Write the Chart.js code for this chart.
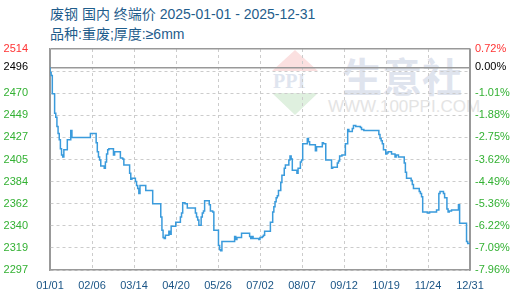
<!DOCTYPE html>
<html>
<head>
<meta charset="utf-8">
<script src="https://cdn.jsdelivr.net/npm/chart.js@4.4.0/dist/chart.umd.min.js"></script>
<style>
  body { margin: 0; background: #fff; }
  #wrap { position: relative; width: 520px; height: 300px; }
  #wrap canvas { position: absolute; left: 0; top: 0; }
  .ttl { position: absolute; left: 50px; font-family: "Liberation Sans", "Noto Sans CJK SC", sans-serif; font-size: 14px; line-height: 16px; color: #1f5d8c; white-space: nowrap; }
  .wm { position: absolute; white-space: nowrap; font-family: "Noto Sans CJK SC", sans-serif; }
  .tri { position: absolute; }
</style>
</head>
<body>
<div id="wrap">
  <div class="ttl" style="top:6px">废钢 国内 终端价 2025-01-01 - 2025-12-31</div>
  <div class="ttl" style="top:26px">品种:重废;厚度:≥6mm</div>
  <div class="tri" style="left:272px;top:50px;width:46px;height:21px;background:#fbe0e0;clip-path:polygon(50% 0,100% 100%,0 100%)"></div>
  <div class="tri" style="left:272px;top:93px;width:46px;height:22px;background:#dff0df;clip-path:polygon(0 0,100% 0,50% 100%)"></div>
  <div class="wm" style="left:273px;top:70px;font-size:20px;font-weight:bold;color:#dfe5ef;font-family:'Liberation Serif',serif">PPI</div>
  <div class="wm" style="left:342px;top:46px;font-size:40px;font-weight:bold;color:#dfe4ee">生意社</div>
  <div class="wm" style="left:328px;top:97px;font-size:17px;color:#e4e4e4;font-family:'Liberation Sans',sans-serif">WWW.100PPI.COM</div>
  <canvas id="c" width="520" height="300"></canvas>
</div>
<script>
// day of year (0 = 01/01) where the price changes, and the price from that day
const dayIndex = [0, 1, 2, 4, 5, 6, 7, 8, 9, 10, 11, 12, 15, 18, 19, 35, 40, 41, 42, 43, 44, 47, 48, 49, 50, 51,
  55, 56, 61, 63, 64, 69, 70, 71, 74, 75, 76, 77, 78, 83, 89, 96, 97, 98, 99, 100, 103, 104, 105, 109,
  113, 114, 115, 117, 119, 126, 127, 128, 129, 131, 132, 133, 134, 138, 139, 141, 142, 146, 147, 148, 149,
  160, 161, 162, 166, 173, 174, 175, 176, 181, 182, 184, 185, 186, 191, 193, 194, 195, 196, 197, 198,
  200, 201, 203, 204, 207, 208, 209, 210, 214, 215, 217, 218, 219, 223, 224, 225, 230, 231, 236, 237, 239,
  244, 245, 246, 249, 250, 251, 253, 256, 258, 259, 262, 263, 265, 269, 270, 272,
  285, 286, 287, 288, 289, 291, 292, 293, 296, 299, 300, 302, 307, 308, 309, 313, 314, 315, 320, 321, 322, 323,
  327, 329, 335, 337, 338, 341, 342, 344, 345, 346, 348, 354, 355, 361, 362, 363, 364];
const prices = [2496, 2491, 2488, 2470, 2451, 2447, 2438, 2431, 2425, 2416, 2410, 2408, 2415, 2425, 2434, 2427, 2431, 2422, 2413, 2408, 2405, 2399, 2397, 2403, 2411, 2415,
  2416, 2410, 2413, 2407, 2406, 2400, 2392, 2386, 2387, 2384, 2380, 2377, 2372, 2380, 2375, 2362, 2349, 2336, 2329, 2328, 2331, 2335, 2332, 2340,
  2344, 2349, 2353, 2363, 2362, 2358, 2353, 2349, 2346, 2341, 2349, 2353, 2355, 2365, 2361, 2355, 2354, 2336, 2321, 2317, 2316,
  2325, 2330, 2327, 2329, 2333, 2330, 2328, 2330, 2328, 2327, 2329, 2330, 2331, 2335, 2344, 2354, 2359, 2364, 2368, 2370,
  2375, 2383, 2390, 2397, 2400, 2405, 2409, 2406, 2395, 2392, 2397, 2403, 2405, 2421, 2426, 2423, 2420, 2414, 2418, 2422, 2421,
  2405, 2397, 2398, 2398, 2402, 2404, 2409, 2410, 2421, 2435, 2433, 2436, 2439, 2438, 2437, 2435,
  2434, 2430, 2426, 2424, 2421, 2415, 2411, 2412, 2413, 2411, 2408, 2410, 2408, 2402, 2393, 2387, 2385, 2381, 2377, 2374, 2372, 2369,
  2354, 2353, 2354, 2356, 2372, 2374, 2372, 2368, 2357, 2354, 2355, 2356, 2361, 2343, 2325, 2323, 2323];

const xTickDays = [0, 36.4, 72.8, 109.2, 145.6, 182, 218.4, 254.8, 291.2, 327.6, 364];
const xTickLabels = ['01/01', '02/06', '03/14', '04/20', '05/26', '07/02', '08/07', '09/12', '10/19', '11/24', '12/31'];

const yTickValues = [2297, 2318.7, 2340.4, 2362.1, 2383.8, 2405.5, 2427.2, 2448.9, 2470.6, 2492.3, 2496, 2514];
const yTickLabels = ['2297', '2319', '2340', '2362', '2384', '2405', '2427', '2449', '2470', '', '2496', '2514'];
const pctLabels = ['-7.96%', '-7.09%', '-6.22%', '-5.36%', '-4.49%', '-3.62%', '-2.75%', '-1.88%', '-1.01%', '', '0.00%', '0.72%'];
const basePrice = 2496;

const tickFont = { family: 'Liberation Sans', size: 11 };
const labelColor = function(ctx) {
  const v = yTickValues[ctx.index];
  if (v > basePrice) return '#ff3333';
  if (v === basePrice) return '#000000';
  return '#33b133';
};

new Chart('c', {
  type: 'line',
  data: {
    datasets: [{
      data: dayIndex.map((d, i) => ({ x: d, y: prices[i] })),
      borderColor: '#3a9bdc',
      borderWidth: 1.5,
      pointRadius: 0,
      stepped: 'after',
      fill: false
    }]
  },
  options: {
    responsive: false,
    animation: false,
    devicePixelRatio: 1,
    layout: { padding: { top: 49, left: 0, right: 0, bottom: 0 } },
    plugins: { legend: { display: false }, tooltip: { enabled: false } },
    scales: {
      x: {
        type: 'linear',
        min: 0,
        max: 364,
        afterBuildTicks: s => { s.ticks = xTickDays.map(v => ({ value: v })); },
        afterFit: s => { s.height = 30; },
        ticks: {
          autoSkip: false,
          maxRotation: 0,
          padding: 9,
          font: tickFont,
          color: '#1b5586',
          callback: (v, i) => xTickLabels[i]
        },
        grid: {
          drawTicks: false,
          color: ctx => (ctx.index === 0 || ctx.index === xTickDays.length - 1) ? '#999999' : '#cccccc'
        },
        border: { color: '#999999', width: 1.5, dash: ctx => (ctx.index === 0 || ctx.index === xTickDays.length - 1) ? [] : [3, 3] }
      },
      y: {
        position: 'left',
        min: 2297,
        max: 2514,
        afterBuildTicks: s => { s.ticks = yTickValues.map(v => ({ value: v })); },
        afterFit: s => { s.width = 50; },
        ticks: {
          autoSkip: false,
          padding: 22,
          font: tickFont,
          color: labelColor,
          callback: (v, i) => yTickLabels[i]
        },
        grid: {
          drawTicks: false,
          color: ctx => (yTickValues[ctx.index] >= basePrice) ? '#999999' : '#cccccc',
          lineWidth: ctx => (yTickValues[ctx.index] >= basePrice) ? 1.5 : 1
        },
        border: { color: '#999999', width: 1.5, dash: ctx => (yTickValues[ctx.index] >= basePrice) ? [] : [3, 3] }
      },
      y2: {
        position: 'right',
        min: 2297,
        max: 2514,
        afterBuildTicks: s => { s.ticks = yTickValues.map(v => ({ value: v })); },
        afterFit: s => { s.width = 50; },
        ticks: {
          autoSkip: false,
          padding: 5,
          font: tickFont,
          color: labelColor,
          callback: (v, i) => pctLabels[i]
        },
        grid: { display: false, drawTicks: false },
        border: { color: '#999999', width: 1.5 }
      }
    }
  }
});
</script>
</body>
</html>
